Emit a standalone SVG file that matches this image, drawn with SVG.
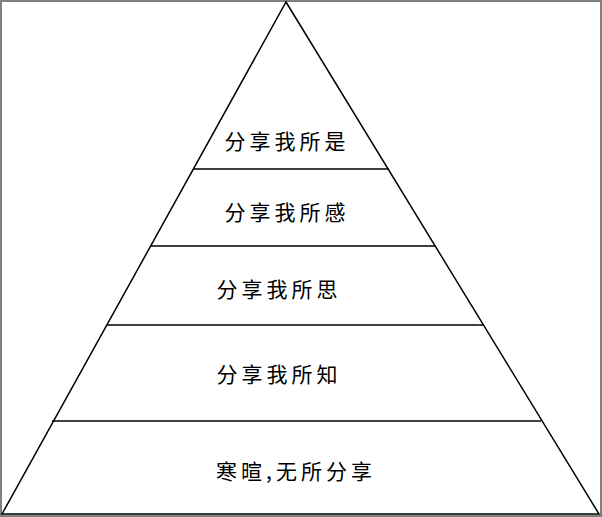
<svg xmlns="http://www.w3.org/2000/svg" width="602" height="517" viewBox="0 0 602 517">
<style>
.frame{fill:#fff;stroke:#808080;stroke-width:2}
.edge{fill:none;stroke:#000;stroke-width:1.5;stroke-linejoin:miter}
.tier{stroke:#000;stroke-width:1.5}
.lbl{font-family:"Noto Sans CJK SC","Noto Sans CJK JP",sans-serif;font-size:21px;fill:#000;text-anchor:middle;dominant-baseline:central;letter-spacing:4px}
</style>
<rect class="frame" x="1" y="1" width="600" height="515"/>
<g id="connectors">
<polygon class="edge" points="286,2 599,514 2,514"/>
<line class="tier" x1="193" y1="169" x2="389" y2="169"/>
<line class="tier" x1="151" y1="246" x2="435" y2="246"/>
<line class="tier" x1="107" y1="325" x2="484" y2="325"/>
<line class="tier" x1="52" y1="421" x2="541" y2="421"/>
</g>
<g id="n1"><text class="lbl" x="287" y="140">分享我所是</text></g>
<g id="n2"><text class="lbl" x="287" y="211">分享我所感</text></g>
<g id="n3"><text class="lbl" x="279" y="288">分享我所思</text></g>
<g id="n4"><text class="lbl" x="279" y="373">分享我所知</text></g>
<g id="n5"><text class="lbl" x="296" y="470">寒暄,无所分享</text></g>
</svg>
